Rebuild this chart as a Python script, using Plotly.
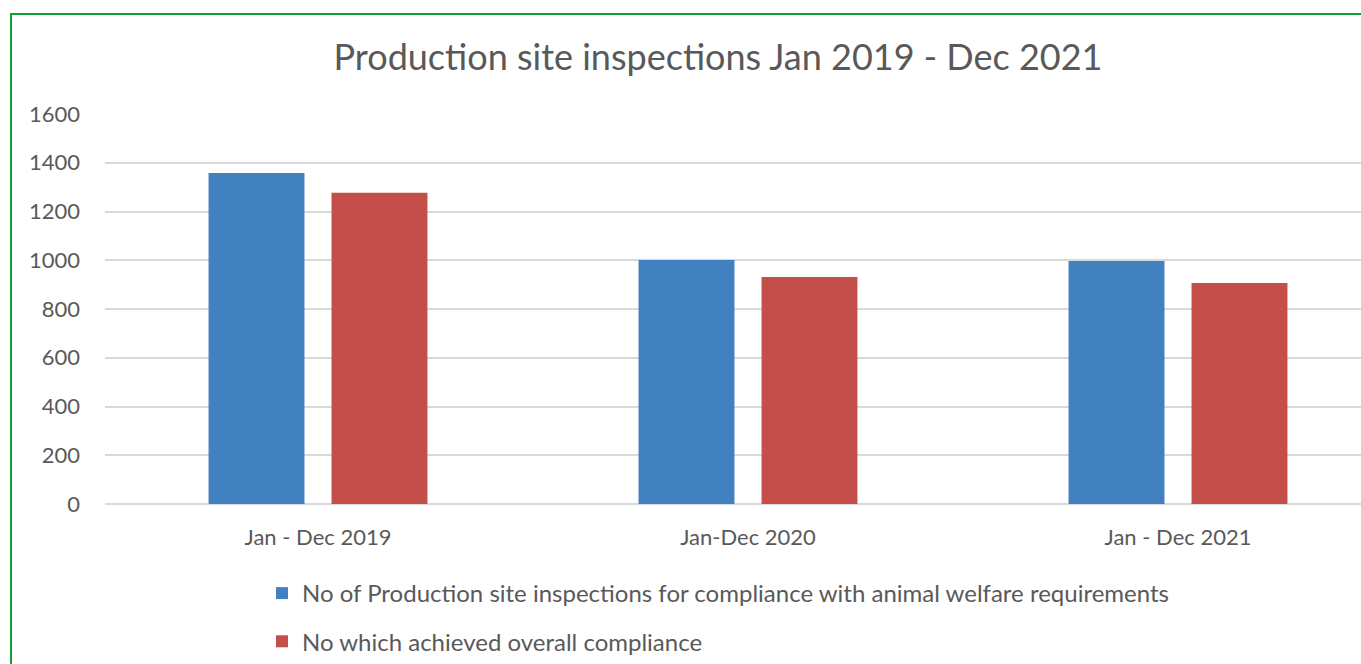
import plotly.graph_objects as go

categories = ["Jan - Dec 2019", "Jan-Dec 2020", "Jan - Dec 2021"]
inspections = [1358, 1001, 997]
compliant = [1277, 931, 907]
series_names = [
    "No of Production site inspections for compliance with animal welfare requirements",
    "No which achieved overall compliance",
]
y_ticks = [0, 200, 400, 600, 800, 1000, 1200, 1400, 1600]

W, H = 1361, 664
ML, MR, MT, MB = 105, 0, 114, 160
PW, PH = W - ML - MR, H - MT - MB
CAT_PX = 430          # pixel spacing between category centres
FIRST_CAT_PX = 318    # pixel position of first category centre

FONT = "Lato"
GREY = "#595959"

fig = go.Figure()
fig.add_trace(go.Bar(x=categories, y=inspections, name=series_names[0],
                     marker=dict(color="#4281C0", line=dict(width=0)), legendgroup="a"))
fig.add_trace(go.Bar(x=categories, y=compliant, name=series_names[1],
                     marker=dict(color="#C44F4A", line=dict(width=0)), legendgroup="b"))

def px_x(px):
    return (px - ML) / PW

def px_y(py):
    return 1 - (py - MT) / PH

fig.add_shape(type="rect", xref="paper", yref="paper",
              x0=px_x(11), x1=px_x(1500), y0=px_y(14), y1=px_y(900),
              line=dict(color="#12A03A", width=2), fillcolor="rgba(0,0,0,0)", layer="above")

x0 = -(FIRST_CAT_PX - ML) / CAT_PX
x1 = x0 + PW / CAT_PX

fig.update_layout(
    width=W, height=H,
    margin=dict(l=ML, r=MR, t=MT, b=MB),
    paper_bgcolor="white", plot_bgcolor="white",
    barmode="group", bargap=0.428, bargroupgap=0.22,
    font=dict(family=FONT, color=GREY),
    title=dict(text="Production site inspections Jan 2019 - Dec 2021",
               x=718 / W, xanchor="center", y=1 - 57 / H, yanchor="middle",
               font=dict(size=36, color=GREY, family=FONT)),
    xaxis=dict(range=[x0, x1], showgrid=False, showline=False,
               ticks="", tickfont=dict(size=22, color=GREY), ticklabelstandoff=18,
               fixedrange=True),
    yaxis=dict(range=[0, 1600], tickvals=y_ticks, showgrid=True, gridcolor="#D9D9D9",
               gridwidth=2, zeroline=True, zerolinecolor="#D9D9D9", zerolinewidth=2,
               tickfont=dict(size=22, color=GREY), ticklabelstandoff=24, fixedrange=True),
    legend=dict(orientation="v", x=px_x(262), xanchor="left", y=px_y(571), yanchor="top",
                font=dict(size=24, color=GREY), tracegroupgap=14, traceorder="grouped"),
    showlegend=True,
)

fig.write_html("out.html", config={"displayModeBar": False},
               post_script="document.body.style.margin='0';document.body.style.overflow='hidden';")
